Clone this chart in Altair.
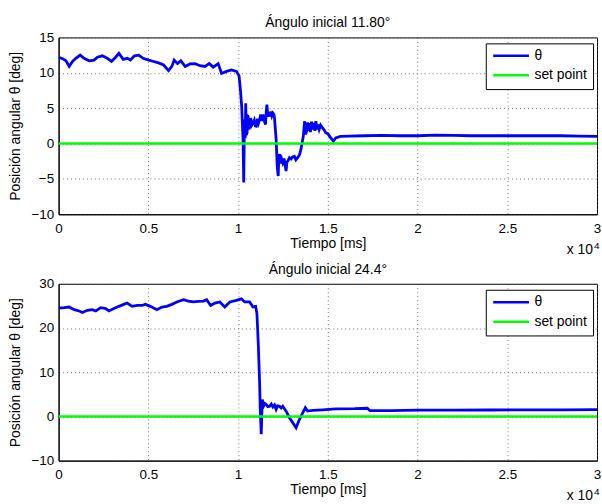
import altair as alt
import pandas as pd

FONT = "Liberation Sans"

# ---- data (time in ms, angle in degrees) ----
t_top = [0, 220, 410, 590, 775, 960, 1200, 1420, 1700, 1975, 2160, 2435, 2710, 2950, 3175, 3360,
         3600, 3820, 4000, 4225, 4465, 4705, 5020, 5295, 5570, 5850, 6125, 6310, 6440, 6625, 6810,
         7050, 7325, 7600, 7880, 8155, 8395, 8615, 8890, 9080, 9355, 9630, 9910, 10055, 10130, 10200,
         10275, 10315, 10345, 10370, 10400, 10425, 10460, 10500, 10530, 10555, 10600, 10645, 10700,
         10760, 10830, 10900, 10960, 11015, 11080, 11140, 11200, 11260, 11320, 11385, 11450, 11530,
         11570, 11605, 11660, 11700, 11755, 11820, 11880, 11940, 12000, 12030, 12120, 12180, 12235,
         12270, 12310, 12370, 12430, 12490, 12560, 12620, 12675, 12720, 12770, 12860, 12950, 13040,
         13135, 13220, 13320, 13420, 13505, 13635, 13710, 13760, 13820, 13880, 13930, 13970, 14030,
         14090, 14150, 14220, 14280, 14335, 14400, 14460, 14520, 14600, 14705, 14800, 14890, 15000,
         15165, 15310, 15440, 15700, 16200, 17000, 18000, 19000, 20000, 21000, 22000, 23000, 24000,
         25000, 26000, 27000, 28000, 29000, 30000]
theta_top = [12.2, 12.0, 11.7, 10.9, 11.6, 12.05, 12.5, 12.05, 11.7, 11.8, 12.2, 12.4, 12.05, 11.6,
             12.2, 12.75, 11.9, 12.05, 11.8, 12.4, 12.5, 12.05, 11.8, 11.6, 11.4, 11.1, 10.3, 10.9,
             11.8, 11.3, 11.7, 10.9, 11.25, 11.3, 11.0, 10.9, 11.3, 10.8, 11.3, 9.9, 10.2, 10.4, 10.2,
             9.56, 7.6, 5.3, 0.6, -5.5, 1.0, 3.4, 0.8, 5.7, 1.2, 1.5, 3.9, 3.85, 2.0, 2.45, 3.6, 2.6,
             2.9, 3.3, 2.5, 2.45, 3.5, 2.9, 3.4, 4.1, 3.2, 4.1, 3.3, 2.7, 4.5, 5.5, 3.8, 4.4, 3.85,
             4.5, 3.9, 4.3, 4.1, 3.6, 0.6, -3.2, -4.6, -2.0, -1.5, -2.8, -2.2, -2.7, -2.1, -3.0, -3.9,
             -2.6, -2.5, -2.0, -2.2, -1.9, -1.8, -2.3, -2.0, -1.6, -0.8, 1.05, 3.15, 1.3, 1.75, 3.0,
             1.8, 2.9, 1.6, 3.1, 2.0, 2.9, 1.8, 3.15, 2.0, 2.7, 2.0, 2.6, 2.2, 1.9, 1.5, 1.4, 0.8,
             0.35, 0.8, 1.0, 1.05, 1.1, 1.15, 1.1, 1.1, 1.2, 1.15, 1.1, 1.1, 1.1, 1.1, 1.1, 1.1, 1.05,
             1.0]

t_bot = [0, 315, 590, 870, 1145, 1330, 1605, 1880, 2070, 2345, 2620, 2805, 3080, 3360, 3635, 3820,
         4095, 4375, 4650, 4835, 5110, 5480, 5755, 6030, 6310, 6590, 6955, 7235, 7510, 7785, 8065,
         8250, 8470, 8710, 8985, 9260, 9540, 9910, 10185, 10370, 10645, 10830, 10980, 11050, 11125,
         11200, 11235, 11290, 11350, 11420, 11500, 11570, 11660, 11755, 11850, 11940, 12030, 12120,
         12200, 12305, 12400, 12490, 12675, 12860, 13045, 13230, 13415, 13600, 13745, 13875, 14150,
         14705, 15440, 16500, 17200, 17350, 18500, 20000, 22000, 24000, 26000, 28000, 30000]
theta_bot = [24.5, 24.6, 24.75, 24.15, 23.85, 23.5, 24.0, 24.15, 23.85, 24.6, 24.4, 23.85, 24.4,
             24.9, 25.35, 25.65, 24.9, 25.1, 25.1, 25.35, 24.9, 24.15, 24.75, 24.9, 25.35, 25.9,
             26.4, 26.1, 25.9, 26.0, 26.1, 26.4, 25.1, 25.65, 25.9, 24.75, 25.9, 26.25, 26.6, 25.9,
             25.9, 24.75, 24.9, 23.25, 16.5, 7.5, 1.6, -4.0, 3.8, 2.3, 2.9, 2.7, 2.2, 2.3, 2.8, 2.15,
             2.6, 1.6, 2.4, 2.3, 1.9, 2.3, 1.2, -0.3, -1.4, -2.55, -0.7, 0.8, 1.95, 1.2, 1.35, 1.5,
             1.7, 1.75, 1.85, 1.3, 1.3, 1.4, 1.4, 1.45, 1.5, 1.5, 1.55]

sp_t = [0, 30000]
sp_val = [0, 0]

series = ["θ", "set point"]
colors = ["#0000ff", "#00ff00"]
x_ticks = [0, 5000, 10000, 15000, 20000, 25000, 30000]
y_ticks_top = [-10, -5, 0, 5, 10, 15]
y_ticks_bot = [-10, 0, 10, 20, 30]
titles = ["Ángulo inicial 11.80°", "Ángulo inicial 24.4°"]
mult_text = ["x 10", "4"]

W, H = 542, 178


def panel(t, th, title, ydom, yticks):
    df = pd.DataFrame({"t": t, "v": th, "s": series[0]})
    sp = pd.DataFrame({"t": sp_t, "v": sp_val, "s": series[1]})
    color = alt.Color(
        "s:N",
        scale=alt.Scale(domain=series, range=colors),
        legend=alt.Legend(
            title=None, orient="none", legendX=430, legendY=6,
            fillColor="white", strokeColor="black",
            padding=6, symbolType="stroke", symbolSize=1296, symbolStrokeWidth=2.5,
            clipHeight=13, rowPadding=4.6, labelFont=FONT, labelFontSize=14,
            labelColor="black", labelOffset=4,
        ),
    )
    xscale = alt.Scale(domain=[0, 30000], nice=False, zero=False)
    yscale = alt.Scale(domain=ydom, nice=False, zero=False)
    xaxis = alt.Axis(values=x_ticks, labelExpr="datum.value / 10000 + ''",
                     title="Tiempo [ms]", labelPadding=7, titlePadding=2)
    yaxis = alt.Axis(values=yticks, title="Posición angular θ [deg]",
                     labelPadding=5, titlePadding=8)
    x = alt.X("t:Q", scale=xscale, axis=xaxis)
    y = alt.Y("v:Q", scale=yscale, axis=yaxis)
    line = alt.Chart(df).mark_line(strokeWidth=2.8, clip=True).encode(x=x, y=y, color=color)
    spl = alt.Chart(sp).mark_line(strokeWidth=2.5, clip=True).encode(x=x, y=y, color=color)
    mdf = pd.DataFrame({"a": [mult_text[0]], "b": [mult_text[1]], "tx": [30000], "vy": [ydom[0]]})
    xm = alt.X("tx:Q", scale=xscale, axis=xaxis)
    ym = alt.Y("vy:Q", scale=yscale, axis=yaxis)
    m1 = alt.Chart(mdf).mark_text(align="right", baseline="alphabetic", fontSize=14, font=FONT,
                                  color="black", dx=-4, dy=40).encode(x=xm, y=ym, text="a:N")
    m2 = alt.Chart(mdf).mark_text(align="left", baseline="alphabetic", fontSize=10, font=FONT,
                                  color="black", dx=-3, dy=35).encode(x=xm, y=ym, text="b:N")
    return alt.layer(line, spl, m1, m2).properties(
        width=W, height=H,
        title=alt.TitleParams(title, fontSize=14, font=FONT, fontWeight="normal",
                              color="black", offset=0, anchor="middle", frame="group"),
    )


top = panel(t_top, theta_top, titles[0], [-10, 15], y_ticks_top)
bot = panel(t_bot, theta_bot, titles[1], [-10, 30], y_ticks_bot)

chart = (
    alt.vconcat(top, bot, spacing=70, bounds="flush")
    .resolve_legend(color="independent")
    .properties(padding={"left": 8, "top": 14, "right": 0, "bottom": 0})
    .configure_view(stroke="black", strokeWidth=1)
    .configure_legend(strokeWidth=1, cornerRadius=0)
    .configure_axis(
        labelFont=FONT, labelFontSize=13.5, labelColor="black",
        titleFont=FONT, titleFontSize=14, titleFontWeight="normal", titleColor="black",
        domainColor="black", domainWidth=1, ticks=False, tickSize=0,
        grid=True, gridColor="#555555", gridDash=[1, 3], gridWidth=1, gridOpacity=0.8,
        labelFlush=False, labelOverlap=False,
    )
)

chart.save("out.html", embed_options={"renderer": "svg", "actions": False})
